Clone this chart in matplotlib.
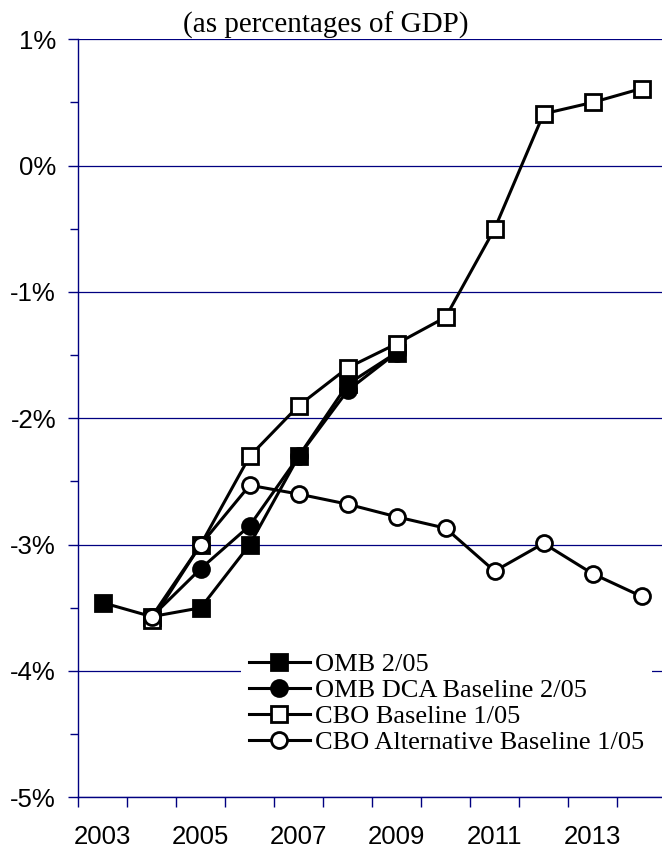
import matplotlib.pyplot as plt
from matplotlib.ticker import MultipleLocator, FuncFormatter

# Deficit / surplus projections, as percentages of GDP
years = list(range(2003, 2015))
omb = [-3.46, -3.57, -3.50, -3.00, -2.30, -1.73, -1.48]
omb_dca = [None, -3.57, -3.19, -2.85, -2.30, -1.78, -1.48]
cbo = [None, -3.60, -3.00, -2.30, -1.90, -1.60, -1.41, -1.20, -0.50, 0.41, 0.50, 0.61]
cbo_alt = [None, -3.57, -3.00, -2.53, -2.60, -2.68, -2.78, -2.87, -3.21, -2.99, -3.23, -3.41]

series = [
    ("OMB 2/05", omb, "s", "black"),
    ("OMB DCA Baseline 2/05", omb_dca, "o", "black"),
    ("CBO Baseline 1/05", cbo, "s", "white"),
    ("CBO Alternative Baseline 1/05", cbo_alt, "o", "white"),
]

navy = "#000080"

fig = plt.figure(figsize=(6.62, 8.48), dpi=100)
ax = fig.add_axes([0.1183, 0.0598, 0.8878, 0.8939])

for label, vals, mk, face in series:
    xs = [y for y, v in zip(years, vals) if v is not None]
    ys = [v for v in vals if v is not None]
    ax.plot(xs, ys, color="black", lw=2.2, marker=mk, ms=11.5,
            mfc=face, mec="black", mew=2, label=label)

ax.set_xlim(2002.5, 2014.5)
ax.set_ylim(-5, 1)

# grid lines at each whole percent
ax.yaxis.set_major_locator(MultipleLocator(1))
ax.yaxis.set_minor_locator(MultipleLocator(0.5))
ax.yaxis.set_major_formatter(FuncFormatter(lambda v, p: "%d%%" % round(v)))
ax.grid(axis="y", which="major", color=navy, lw=0.9)
ax.set_axisbelow(True)

ax.set_xticks(years[::2])
ax.set_xticks([y - 0.5 for y in years] + [2014.5], minor=True)
ax.tick_params(axis="x", which="major", length=0, pad=20, labelsize=18.5)
ax.tick_params(axis="x", which="minor", length=7, width=1, color=navy)
ax.tick_params(axis="y", which="major", length=7, width=1, color=navy, pad=9, labelsize=18.5)
ax.tick_params(axis="y", which="minor", length=6, width=1, color=navy)
for lbl in ax.get_xticklabels() + ax.get_yticklabels():
    lbl.set_fontfamily("Liberation Sans")

for s in ["top", "right"]:
    ax.spines[s].set_visible(False)
for s in ["left", "bottom"]:
    ax.spines[s].set_color(navy)
    ax.spines[s].set_linewidth(1)

leg = ax.legend(loc="upper left", bbox_to_anchor=(241 / 662, 1 - 645 / 848),
                bbox_transform=fig.transFigure, borderaxespad=0, borderpad=0.3,
                frameon=True, fancybox=False, framealpha=1, facecolor="white",
                edgecolor="none", handlelength=2.3, handletextpad=0.2,
                labelspacing=0.09, prop={"family": "Liberation Serif", "size": 19})

fig.text(326 / 662, 1 - 33 / 848, "(as percentages of GDP)", ha="center",
         va="baseline", fontsize=21, family="Liberation Serif")

fig.savefig("out.png", dpi=100)
